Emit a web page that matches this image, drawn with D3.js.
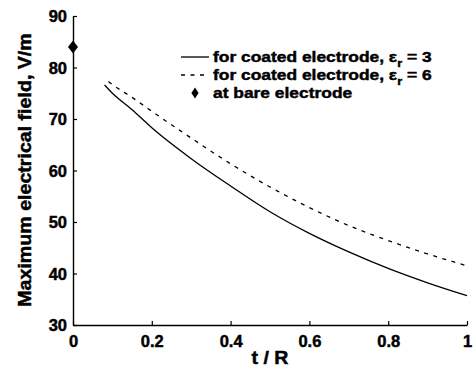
<!DOCTYPE html>
<html>
<head>
<meta charset="utf-8">
<script src="https://cdn.jsdelivr.net/npm/d3@7"></script>
<style>
  html, body { margin: 0; padding: 0; background: #fff; }
  svg text { font-family: "Liberation Sans", Arial, sans-serif; font-weight: bold; fill: #000;
             stroke: #000; stroke-width: 0.45px; }
</style>
</head>
<body>
<svg id="chart" width="473" height="376"></svg>
<script>
// Normalised coating thickness t/R
const tCoated3 = [0.08, 0.10, 0.15, 0.20, 0.30, 0.40, 0.50, 0.60, 0.70, 0.80, 0.90, 1.00];
// Maximum field for coated electrode, eps_r = 3 (V/m)
const eCoated3 = [76.6, 75.0, 71.8, 68.3, 62.3, 57.0, 52.0, 47.8, 44.2, 41.0, 38.2, 35.7];
const tCoated6 = [0.09, 0.10, 0.15, 0.20, 0.30, 0.40, 0.50, 0.60, 0.70, 0.80, 0.90, 1.00];
// Maximum field for coated electrode, eps_r = 6 (V/m)
const eCoated6 = [77.3, 76.7, 74.2, 71.5, 66.3, 61.3, 56.8, 52.8, 49.3, 46.4, 43.8, 41.5];
// Bare electrode reference point
const bareT = [0];
const bareE = [84];

const xTicks = [0, 0.2, 0.4, 0.6, 0.8, 1];
const xTickLabels = ["0", "0.2", "0.4", "0.6", "0.8", "1"];
const yTicks = [30, 40, 50, 60, 70, 80, 90];

const svg = d3.select("#chart");
const plotLeft = 73, plotRight = 467, plotTop = 16, plotBottom = 325;

const x = d3.scaleLinear().domain([0, 1]).range([plotLeft, plotRight]);
const y = d3.scaleLinear().domain([30, 90]).range([plotBottom, plotTop]);

// Axes (ticks point inward)
const xAxis = d3.axisBottom(x).tickValues(xTicks)
  .tickFormat((d, i) => xTickLabels[i]).tickSizeInner(-4).tickSizeOuter(0).tickPadding(10);
const yAxis = d3.axisLeft(y).tickValues(yTicks)
  .tickFormat(d3.format("d")).tickSizeInner(-4).tickSizeOuter(0).tickPadding(6);

const gx = svg.append("g").attr("transform", `translate(0,${plotBottom})`).call(xAxis);
const gy = svg.append("g").attr("transform", `translate(${plotLeft},0)`).call(yAxis);
[gx, gy].forEach(g => {
  g.attr("font-family", null).attr("font-size", null);
  g.select(".domain").attr("stroke", "#000").attr("stroke-width", 1.4);
  g.selectAll(".tick line").attr("stroke", "#000").attr("stroke-width", 1.2);
  g.selectAll(".tick text").style("font-size", "16.5px");
});
gx.selectAll(".tick text").attr("dy", "0.71em");
gy.selectAll(".tick text").attr("dy", "0.35em");

// Axis titles
svg.append("text").attr("transform", `translate(${(plotLeft + plotRight) / 2},364) scale(1.12,1)`)
  .attr("text-anchor", "middle").style("font-size", "17.5px").text("t / R");
svg.append("text")
  .attr("transform", `translate(31,170) rotate(-90) scale(1.09,1)`)
  .attr("text-anchor", "middle").style("font-size", "18px")
  .text("Maximum electrical field, V/m");

// Curves
const line = d3.line().x(d => x(d[0])).y(d => y(d[1])).curve(d3.curveMonotoneX);
svg.append("path").datum(d3.zip(tCoated3, eCoated3))
  .attr("d", line).attr("fill", "none").attr("stroke", "#000").attr("stroke-width", 1.3);
svg.append("path").datum(d3.zip(tCoated6, eCoated6))
  .attr("d", line).attr("fill", "none").attr("stroke", "#000").attr("stroke-width", 1.3)
  .attr("stroke-dasharray", "4,5.5");

// Diamond marker with independent half-width / half-height
const diamondShape = (hw, hh) => ({
  draw(ctx) {
    ctx.moveTo(0, -hh); ctx.lineTo(hw, 0); ctx.lineTo(0, hh); ctx.lineTo(-hw, 0); ctx.closePath();
  }
});
svg.selectAll(".bare").data(d3.zip(bareT, bareE)).join("path")
  .attr("class", "bare")
  .attr("transform", d => `translate(${x(d[0])},${y(d[1])})`)
  .attr("d", d3.symbol().type(diamondShape(5, 6.5))()).attr("fill", "#000");

// Legend
const legend = svg.append("g").attr("transform", "translate(181,0)");
const rows = [
  { yy: 57, type: "solid", label: "for coated electrode, ε", sub: "r", tail: " = 3" },
  { yy: 75, type: "dash", label: "for coated electrode, ε", sub: "r", tail: " = 6" },
  { yy: 93, type: "diamond", label: "at bare electrode" }
];
const stretch = 1.16;
rows.forEach(r => {
  if (r.type === "solid") {
    legend.append("line").attr("x1", 0).attr("x2", 28).attr("y1", r.yy).attr("y2", r.yy)
      .attr("stroke", "#000").attr("stroke-width", 1.3);
  } else if (r.type === "dash") {
    legend.append("line").attr("x1", 0).attr("x2", 28).attr("y1", r.yy).attr("y2", r.yy)
      .attr("stroke", "#000").attr("stroke-width", 1.3).attr("stroke-dasharray", "4,5.5");
  } else {
    legend.append("path").attr("transform", `translate(14,${r.yy})`)
      .attr("d", d3.symbol().type(diamondShape(3.6, 5.5))()).attr("fill", "#000");
  }
  const t = legend.append("text")
    .attr("transform", `translate(32,${r.yy + 5}) scale(${stretch},1)`)
    .style("font-size", "15px");
  t.append("tspan").text(r.label);
  if (r.sub) {
    t.append("tspan").attr("dy", 5).style("font-size", "11px").text(r.sub);
    t.append("tspan").attr("dy", -5).text(r.tail);
  }
});
</script>
</body>
</html>
